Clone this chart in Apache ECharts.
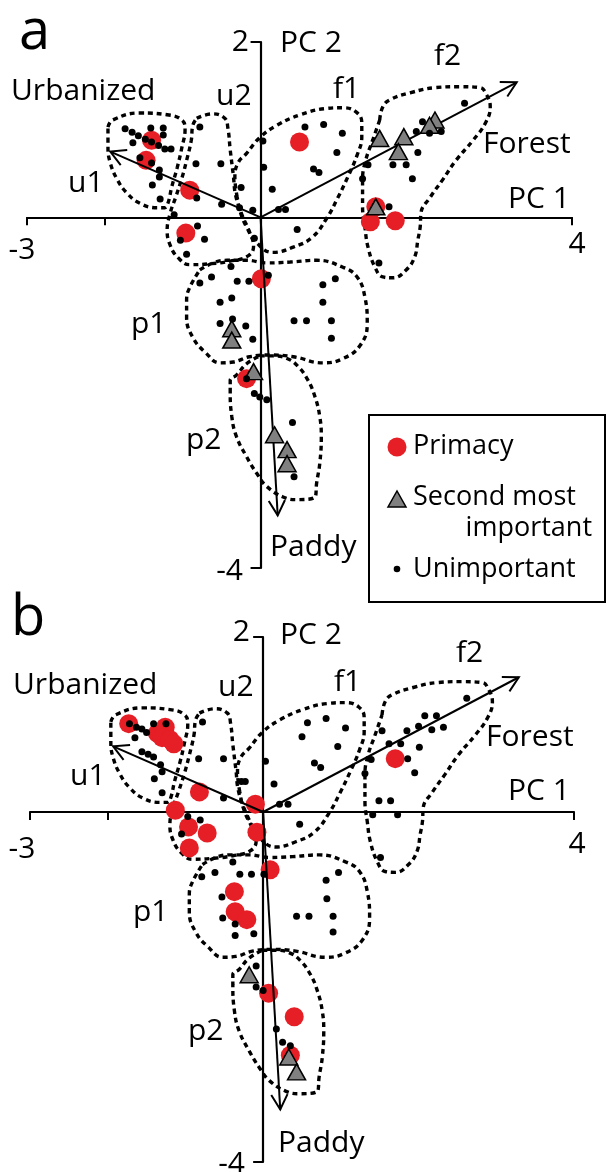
<!DOCTYPE html>
<html><head><meta charset="utf-8">
<script src="https://cdn.jsdelivr.net/npm/echarts@6/dist/echarts.min.js"></script>
<style>html,body{margin:0;padding:0;background:#fff}#c{width:606px;height:1172px}</style>
</head><body><div id="c"></div>
<script>
// ---------- axes ----------
const xMin = -3, xMax = 4;
const yMin = -4, yMax = 2;
const xTickValues = [-3, -2, 4];
const xTickLabels = ['-3', '4'];
const yTickValues = [-4, 2];
const yTickLabels = ['-4', '2'];

// ---------- loading vectors (Urbanized, Forest, Paddy) ----------
const vectorNames = ['Urbanized', 'Forest', 'Paddy'];
const vectors = [[-1.93, 0.75], [3.29, 1.54], [0.22, -3.40]];

// ---------- cluster outlines (PC1, PC2) ----------
const hullU1 = [[-1.96,1.03],[-1.90,1.11],[-1.55,1.19],[-1.20,1.17],[-1.01,1.11],[-0.97,1.00],[-1.01,0.80],[-1.07,0.57],[-1.14,0.35],[-1.19,0.16],[-1.23,0.11],[-1.33,0.11],[-1.55,0.16],[-1.72,0.28],[-1.84,0.43],[-1.93,0.62],[-1.96,0.80]];
const hullU2 = [[-0.82,1.13],[-0.62,1.18],[-0.46,1.13],[-0.42,1.02],[-0.39,0.77],[-0.35,0.48],[-0.32,0.25],[-0.24,0.03],[-0.14,-0.17],[-0.09,-0.33],[-0.16,-0.44],[-0.39,-0.50],[-0.65,-0.53],[-0.91,-0.54],[-1.06,-0.46],[-1.16,-0.32],[-1.20,-0.15],[-1.16,0.05],[-1.09,0.23],[-1.01,0.45],[-0.95,0.65],[-0.89,0.88],[-0.87,1.05]];
const hullF1 = [[-0.30,0.23],[-0.33,0.46],[-0.29,0.62],[-0.18,0.73],[-0.01,0.91],[0.21,1.05],[0.51,1.17],[0.83,1.24],[1.06,1.25],[1.23,1.20],[1.30,1.08],[1.30,0.92],[1.24,0.71],[1.12,0.46],[0.99,0.22],[0.85,-0.01],[0.66,-0.23],[0.42,-0.34],[0.16,-0.40],[-0.05,-0.29],[-0.18,-0.11],[-0.26,0.06]];
const hullF2 = [[1.53,1.11],[1.57,1.26],[1.66,1.34],[1.92,1.42],[2.25,1.48],[2.56,1.49],[2.82,1.48],[2.89,1.42],[2.95,1.26],[2.89,1.08],[2.73,0.88],[2.51,0.65],[2.34,0.43],[2.18,0.23],[2.06,0.05],[2.05,-0.11],[2.02,-0.26],[1.98,-0.45],[1.87,-0.60],[1.70,-0.69],[1.57,-0.68],[1.47,-0.57],[1.38,-0.34],[1.34,-0.11],[1.31,0.12],[1.31,0.43],[1.35,0.65],[1.44,0.88]];
const hullP1 = [[-0.78,-0.60],[-0.61,-0.52],[-0.43,-0.49],[-0.18,-0.49],[0.08,-0.52],[0.38,-0.51],[0.72,-0.49],[1.06,-0.57],[1.24,-0.68],[1.34,-0.91],[1.37,-1.21],[1.28,-1.46],[1.06,-1.61],[0.80,-1.66],[0.42,-1.59],[0.12,-1.57],[-0.14,-1.59],[-0.35,-1.65],[-0.52,-1.66],[-0.71,-1.54],[-0.87,-1.37],[-0.95,-1.14],[-0.95,-0.94],[-0.91,-0.80]];
const hullP2 = [[-0.01,-1.58],[0.16,-1.58],[0.34,-1.61],[0.48,-1.70],[0.61,-1.86],[0.70,-2.05],[0.76,-2.27],[0.78,-2.50],[0.76,-2.81],[0.72,-3.03],[0.70,-3.19],[0.46,-3.22],[0.29,-3.19],[0.08,-3.07],[-0.05,-2.92],[-0.18,-2.73],[-0.31,-2.50],[-0.37,-2.27],[-0.39,-1.97],[-0.39,-1.86],[-0.31,-1.80],[-0.18,-1.67]];

// ---------- panel a ----------
const aPrimacy = [[-1.40,0.88],[-1.47,0.65],[-0.91,0.31],[-0.96,-0.18],[0.50,0.86],[0.01,-0.70],[1.48,0.12],[1.41,-0.05],[1.73,-0.04],[-0.18,-1.84]];
const aSecond = [[1.53,0.90],[1.84,0.92],[1.77,0.75],[2.24,1.11],[2.17,1.05],[1.48,0.12],[-0.37,-1.27],[-0.37,-1.40],[-0.09,-1.76],[0.18,-2.48],[0.34,-2.65],[0.34,-2.81]];
const aUnimportant = [[-1.74,1.01],[-1.65,0.97],[-1.57,0.93],[-1.48,0.89],[-1.40,0.86],[-1.31,0.82],[-1.23,0.78],[-1.15,0.78],[-1.41,1.02],[-1.25,1.02],[-1.25,0.94],[-1.64,0.85],[-1.55,0.68],[-1.40,0.62],[-1.30,0.54],[-1.30,0.46],[-1.39,0.37],[-1.29,0.21],[-0.82,0.22],[-0.78,1.03],[-0.83,0.61],[-0.51,0.61],[-0.25,0.34],[-0.50,0.15],[-0.27,0.11],[-0.10,0.08],[-1.11,0.03],[-0.81,-0.10],[-1.03,-0.26],[-0.72,-0.25],[-0.95,-0.42],[-0.08,-0.24],[0.03,0.87],[0.04,0.57],[0.15,0.32],[0.23,0.09],[0.32,0.09],[0.47,-0.14],[0.57,1.03],[0.81,1.06],[0.98,0.74],[0.68,0.55],[0.75,0.51],[-0.38,-0.56],[0.10,-0.66],[-0.63,-0.68],[-0.78,-0.75],[-0.30,-0.73],[-0.15,-0.73],[-0.52,-0.97],[-0.37,-0.92],[0.80,-0.77],[0.96,-0.70],[0.80,-0.97],[0.43,-1.18],[0.59,-1.18],[0.91,-1.18],[0.91,-1.38],[-0.52,-1.21],[-0.36,-1.16],[-0.19,-1.24],[-0.10,-1.39],[-0.08,-2.01],[-0.01,-2.05],[0.08,-2.08],[0.41,-2.34],[0.43,-2.96],[-0.18,-1.84],[2.62,1.30],[1.05,0.96],[1.38,0.60],[1.31,0.44],[1.70,0.60],[1.87,0.60],[2.02,0.74],[1.95,0.44],[1.65,0.12],[1.52,-0.52],[2.00,0.98],[2.08,1.09],[2.17,0.96],[2.32,0.98]];

// ---------- panel b ----------
const bPrimacy = [[-1.73,1.01],[-1.36,0.90],[-1.26,0.97],[-1.30,0.85],[-1.20,0.83],[-1.15,0.78],[-0.82,0.23],[-1.13,0.02],[-0.96,-0.17],[-0.72,-0.24],[-0.95,-0.41],[-0.10,0.09],[-0.08,-0.23],[0.09,-0.66],[-0.37,-0.91],[-0.36,-1.14],[-0.21,-1.23],[0.07,-2.07],[0.40,-2.34],[0.35,-2.78],[1.70,0.61]];
const bSecond = [[-0.18,-1.86],[0.33,-2.80],[0.43,-2.97]];
const bUnimportant = [[-1.72,1.01],[-1.63,0.97],[-1.56,0.95],[-1.50,0.91],[-1.41,1.01],[-1.25,1.01],[-1.65,0.85],[-1.56,0.69],[-1.48,0.66],[-1.41,0.63],[-1.32,0.54],[-1.30,0.46],[-1.40,0.38],[-1.30,0.22],[-0.83,0.61],[-0.51,0.61],[-0.78,1.03],[-0.28,0.35],[-0.23,0.35],[-0.51,0.16],[-0.97,-0.05],[-0.81,-0.09],[-1.05,-0.25],[0.03,0.58],[0.14,0.32],[0.21,0.09],[0.32,0.09],[0.47,-0.14],[0.50,0.86],[0.57,1.02],[0.81,1.07],[0.66,0.56],[0.74,0.51],[0.96,0.75],[-0.39,-0.57],[-0.15,-0.71],[-0.30,-0.71],[-0.62,-0.69],[-0.79,-0.74],[0.01,-0.71],[1.51,-0.52],[-0.53,-0.97],[-0.52,-1.21],[-0.36,-1.28],[-0.36,-1.41],[-0.12,-1.39],[0.81,-0.78],[0.97,-0.69],[0.82,-0.99],[0.43,-1.19],[0.59,-1.19],[0.90,-1.19],[0.90,-1.37],[-0.09,-1.76],[-0.09,-2.00],[0.00,-2.04],[0.17,-2.48],[0.25,-2.63],[0.35,-2.67],[2.62,1.30],[2.08,1.10],[2.23,1.10],[2.17,0.94],[2.32,0.97],[2.00,0.98],[1.85,0.93],[1.53,0.93],[1.06,0.96],[1.62,0.78],[1.77,0.78],[2.01,0.74],[1.86,0.61],[1.95,0.45],[1.39,0.60],[1.31,0.44],[1.49,0.13],[1.64,0.13],[1.41,-0.03],[1.73,-0.03]];

// ---------- styling ----------
const FONT = "'Open Sans', sans-serif";
const RED = '#e61e25';
const GREY = '#808080';
const hulls = [hullU1, hullU2, hullF1, hullF2, hullP1, hullP2];

function renderArrow(params, api) {
  const p0 = api.coord([0, 0]);
  const p1 = api.coord([api.value(0), api.value(1)]);
  const ang = Math.atan2(p1[1] - p0[1], p1[0] - p0[0]);
  const L = 17, A = 0.5;
  const h1 = [p1[0] - L * Math.cos(ang - A), p1[1] - L * Math.sin(ang - A)];
  const h2 = [p1[0] - L * Math.cos(ang + A), p1[1] - L * Math.sin(ang + A)];
  return {
    type: 'group',
    children: [
      { type: 'line', shape: { x1: p0[0], y1: p0[1], x2: p1[0], y2: p1[1] }, style: { stroke: '#000', lineWidth: 2 } },
      { type: 'polyline', shape: { points: [h1, p1, h2] }, style: { stroke: '#000', lineWidth: 2, fill: null } }
    ]
  };
}

function panelSeries(i, primacy, second, unimportant) {
  const s = [];
  hulls.forEach(h => {
    s.push({
      type: 'line', xAxisIndex: i, yAxisIndex: i, data: h.concat([h[0]]),
      smooth: 0.45, showSymbol: false, symbol: 'none', silent: true, z: 2,
      lineStyle: { color: '#000', width: 3.4, type: [5, 4] }
    });
  });
  s.push({ type: 'scatter', xAxisIndex: i, yAxisIndex: i, data: primacy, symbol: 'circle', symbolSize: 19,
    itemStyle: { color: RED, opacity: 1 }, z: 3, silent: true });
  s.push({ type: 'custom', xAxisIndex: i, yAxisIndex: i, data: vectors, renderItem: renderArrow, z: 4, silent: true, clip: false });
  s.push({ type: 'scatter', xAxisIndex: i, yAxisIndex: i, data: second, symbol: 'triangle', symbolSize: [18, 16],
    itemStyle: { color: GREY, borderColor: '#000', borderWidth: 1.5, opacity: 1 }, z: 5, silent: true });
  s.push({ type: 'scatter', xAxisIndex: i, yAxisIndex: i, data: unimportant, symbol: 'circle', symbolSize: 7,
    itemStyle: { color: '#000', opacity: 1 }, z: 6, silent: true });
  return s;
}

function xAxisCfg(i) {
  return {
    gridIndex: i, type: 'value', min: xMin, max: xMax, interval: 1,
    axisLine: { onZero: true, lineStyle: { color: '#000', width: 2.2 } },
    axisTick: { show: true, customValues: xTickValues, length: 8, lineStyle: { color: '#000', width: 2 } },
    axisLabel: { show: false },
    splitLine: { show: false }
  };
}
function yAxisCfg(i) {
  return {
    gridIndex: i, type: 'value', min: yMin, max: yMax, interval: 1,
    axisLine: { onZero: true, lineStyle: { color: '#000', width: 2.2 } },
    axisTick: { show: true, customValues: yTickValues, length: 10, lineStyle: { color: '#000', width: 2 } },
    axisLabel: { show: false },
    splitLine: { show: false }
  };
}

function txt(x, y, s, size, align) {
  return { type: 'text', x: x, y: y, z: 100, silent: true,
    style: { text: s, fill: '#000', font: (size || 30) + 'px ' + FONT, textAlign: align || 'left', textVerticalAlign: 'middle' } };
}

// annotation texts: [text, x, y, align]
const labelsA = [
  ['Urbanized', 11, 91], ['u2', 216, 96], ['u1', 68, 183], ['f1', 333, 89], ['f2', 434, 56],
  ['Forest', 483, 144], ['PC 1', 508, 199], ['PC 2', 280, 43], ['p1', 131, 324], ['p2', 186, 440], ['Paddy', 270, 547],
  [xTickLabels[0], 22, 250, 'center'], [xTickLabels[1], 577, 244, 'center'],
  [yTickLabels[1], 249, 42, 'right'], [yTickLabels[0], 243, 571, 'right']
];
const labelsB = [
  ['Urbanized', 13, 685], ['u2', 218, 687], ['u1', 70, 776], ['f1', 334, 682], ['f2', 456, 653],
  ['Forest', 486, 737], ['PC 1', 508, 791], ['PC 2', 280, 635], ['p1', 133, 912], ['p2', 188, 1031], ['Paddy', 278, 1143],
  [xTickLabels[0], 22, 849, 'center'], [xTickLabels[1], 577, 844, 'center'],
  [yTickLabels[1], 250, 632, 'right'], [yTickLabels[0], 245, 1164, 'right']
];

const graphics = [];
graphics.push(txt(19, 33, 'a', 56));
graphics.push(txt(11, 619, 'b', 56));
labelsA.concat(labelsB).forEach(l => graphics.push(txt(l[1], l[2], l[0], 30, l[3])));
// legend box
graphics.push({ type: 'rect', z: 90, silent: true, shape: { x: 369, y: 415, width: 236, height: 187 },
  style: { fill: '#fff', stroke: '#000', lineWidth: 2 } });
graphics.push({ type: 'circle', z: 95, silent: true, shape: { cx: 397, cy: 447, r: 9.5 }, style: { fill: RED } });
graphics.push({ type: 'polygon', z: 95, silent: true, shape: { points: [[388, 507], [406, 507], [397, 491]] },
  style: { fill: GREY, stroke: '#000', lineWidth: 1.5 } });
graphics.push({ type: 'circle', z: 95, silent: true, shape: { cx: 397, cy: 569, r: 3.3 }, style: { fill: '#000' } });
graphics.push(txt(413, 446, 'Primacy', 27));
graphics.push(txt(413, 497, 'Second most', 27));
graphics.push(txt(592, 528, 'important', 27, 'right'));
graphics.push(txt(413, 569, 'Unimportant', 27));

const option = {
  animation: false,
  backgroundColor: '#fff',
  grid: [
    { left: 27, top: 42, width: 545, height: 526, containLabel: false, outerBoundsMode: 'none' },
    { left: 30, top: 637, width: 544, height: 525, containLabel: false, outerBoundsMode: 'none' }
  ],
  xAxis: [xAxisCfg(0), xAxisCfg(1)],
  yAxis: [yAxisCfg(0), yAxisCfg(1)],
  series: panelSeries(0, aPrimacy, aSecond, aUnimportant).concat(panelSeries(1, bPrimacy, bSecond, bUnimportant)),
  graphic: graphics
};

const chart = echarts.init(document.getElementById('c'), null, { renderer: 'canvas' });
chart.setOption(option);
</script>
</body></html>
